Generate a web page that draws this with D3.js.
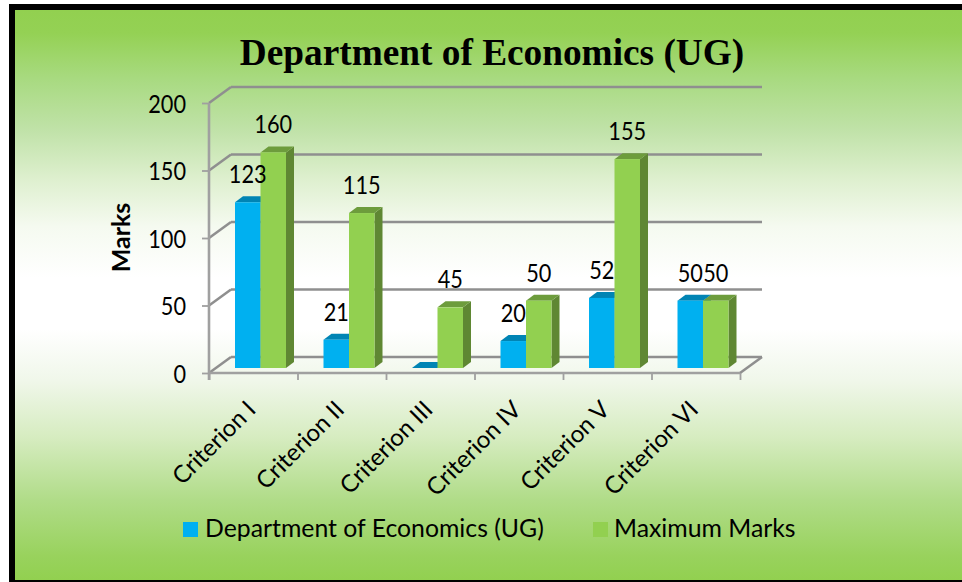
<!DOCTYPE html>
<html><head><meta charset="utf-8">
<script src="https://cdn.jsdelivr.net/npm/d3@7"></script>
<style>html,body{margin:0;padding:0;background:#fff}svg{display:block}</style></head>
<body><svg id="c" width="962" height="582"></svg>
<script>
const categories=["Criterion I","Criterion II","Criterion III","Criterion IV","Criterion V","Criterion VI"];
const deptValues=[123,21,0,20,52,50];
const maxValues=[160,115,45,50,155,50];
const yTicks=[0,50,100,150,200];
const seriesNames=["Department of Economics (UG)","Maximum Marks"];
const titleText="Department of Economics (UG)";
const yTitle="Marks";

const svg=d3.select("#c");
const defs=svg.append("defs");
const g=defs.append("linearGradient").attr("id","bg").attr("x1",0).attr("y1",0).attr("x2",0).attr("y2",1);
[[0,"#92d050"],[.04,"#94d154"],[.12,"#a8da80"],[.21,"#c0e2a8"],[.3,"#dff0d0"],[.38,"#f5faf0"],[.47,"#ffffff"],[.56,"#ffffff"],[.65,"#f0f7ea"],[.75,"#d6ecc0"],[.86,"#b0dc88"],[.96,"#98d25c"],[1,"#92d050"]].forEach(s=>g.append("stop").attr("offset",s[0]).attr("stop-color",s[1]));
svg.append("rect").attr("width",962).attr("height",582).attr("fill","#fff");
svg.append("rect").attr("x",9).attr("y",4).attr("width",953).attr("height",578).attr("fill","#000");
svg.append("rect").attr("x",15).attr("y",10).attr("width",947).attr("height",570).attr("fill","url(#bg)");

const dx=22,dy=-16;
const x=d3.scaleBand().domain(categories).range([209,740]);
const y=d3.scaleLinear().domain([0,200]).range([373,103]);
const yBar=d3.scaleLinear().domain([0,200]).range([368,98.5]);
const barW=25.5,depthX=8,depthY=-6,barOff=26;
const grey="#8f8f8f",axisGrey="#a0a0a0";

const wall=svg.append("g").attr("fill","none").attr("stroke",grey).attr("stroke-width",2.6);
yTicks.forEach(t=>{
  wall.append("line").attr("x1",x.range()[0]+dx).attr("x2",x.range()[1]+dx).attr("y1",y(t)+dy).attr("y2",y(t)+dy);
  wall.append("line").attr("x1",x.range()[0]).attr("x2",x.range()[0]+dx).attr("y1",y(t)).attr("y2",y(t)+dy);
});
wall.append("line").attr("x1",x.range()[1]).attr("x2",x.range()[1]+dx).attr("y1",y(0)).attr("y2",y(0)+dy);

const axY=svg.append("g").attr("transform","translate(209,0)").call(d3.axisLeft(y).tickValues(yTicks).tickSize(7).tickPadding(16));
const axX=svg.append("g").attr("transform","translate(0,373)").call(d3.axisBottom(d3.scaleLinear().domain([0,6]).range(x.range())).ticks(6).tickFormat("").tickSize(7));
[axY,axX].forEach(a=>{a.selectAll("path").attr("stroke",grey).attr("stroke-width",2).attr("d",null);a.selectAll("line").attr("stroke",axisGrey).attr("stroke-width",1.8)});
svg.append("line").attr("x1",209).attr("x2",209).attr("y1",y(200)).attr("y2",y(0)+7).attr("stroke",axisGrey).attr("stroke-width",2.6);
svg.append("line").attr("x1",209).attr("x2",740).attr("y1",y(0)).attr("y2",y(0)).attr("stroke",axisGrey).attr("stroke-width",2.6);
const numW=s=>String(s).length*12.6;
axY.selectAll("text").attr("font-family","Lato").attr("font-size",25).attr("fill","#000").attr("dy","0.36em").attr("text-anchor","end")
  .attr("textLength",d=>numW(d)).attr("lengthAdjust","spacingAndGlyphs");

function bar(parent,px,v,front,top,side){
  const t=yBar(v),b=yBar(0),p=parent.append("g");
  if(v>0){
    p.append("polygon").attr("points",[[px+barW,t],[px+barW+depthX,t+depthY],[px+barW+depthX,b+depthY],[px+barW,b]].join(" ")).attr("fill",side);
  }
  p.append("polygon").attr("points",[[px,t],[px+depthX,t+depthY],[px+barW+depthX,t+depthY],[px+barW,t]].join(" ")).attr("fill",top);
  if(v>0) p.append("rect").attr("x",px).attr("y",t).attr("width",barW).attr("height",b-t).attr("fill",front);
}
const bars=svg.append("g");
categories.forEach((c,i)=>{
  const b=x(c)+barOff;
  bar(bars,b,deptValues[i],"#00b0f0","#0084b4","#0084b4");
  bar(bars,b+barW,maxValues[i],"#92d050","#6d9c3c","#5f8733");
});
const labels=svg.append("g").attr("font-family","Lato").attr("font-size",25).attr("fill","#000").attr("text-anchor","middle");
function lab(px,v){labels.append("text").attr("x",px).attr("y",yBar(v)-19).attr("textLength",numW(v)).attr("lengthAdjust","spacingAndGlyphs").text(v);}
categories.forEach((c,i)=>{
  const b=x(c)+barOff;
  if(deptValues[i]>0) lab(b+barW/2,deptValues[i]);
  lab(b+barW*1.5,maxValues[i]);
});
svg.append("g").selectAll("text").data(categories).join("text")
  .attr("transform",d=>`translate(${x(d)+x.bandwidth()/2+4},${411}) rotate(-45)`)
  .attr("text-anchor","end").attr("font-family","Lato").attr("font-size",24).attr("fill","#000").text(d=>d);
svg.append("text").attr("x",492).attr("y",65).attr("text-anchor","middle").attr("font-family","Liberation Serif").attr("font-weight","bold").attr("font-size",37.3).text(titleText);
svg.append("text").attr("transform","translate(129.5,237.5) rotate(-90)").attr("text-anchor","middle").attr("font-family","Lato").attr("font-weight","bold").attr("font-size",25).text(yTitle);
const legendX=[183,593],legendColors=["#00b0f0","#92d050"];
seriesNames.forEach((n,i)=>{
  svg.append("rect").attr("x",legendX[i]).attr("y",522).attr("width",15).attr("height",15).attr("fill",legendColors[i]);
  svg.append("text").attr("x",[205,614][i]).attr("y",537).attr("font-family","Lato").attr("font-size",24.8).attr("fill","#000").text(n);
});
</script></body></html>
